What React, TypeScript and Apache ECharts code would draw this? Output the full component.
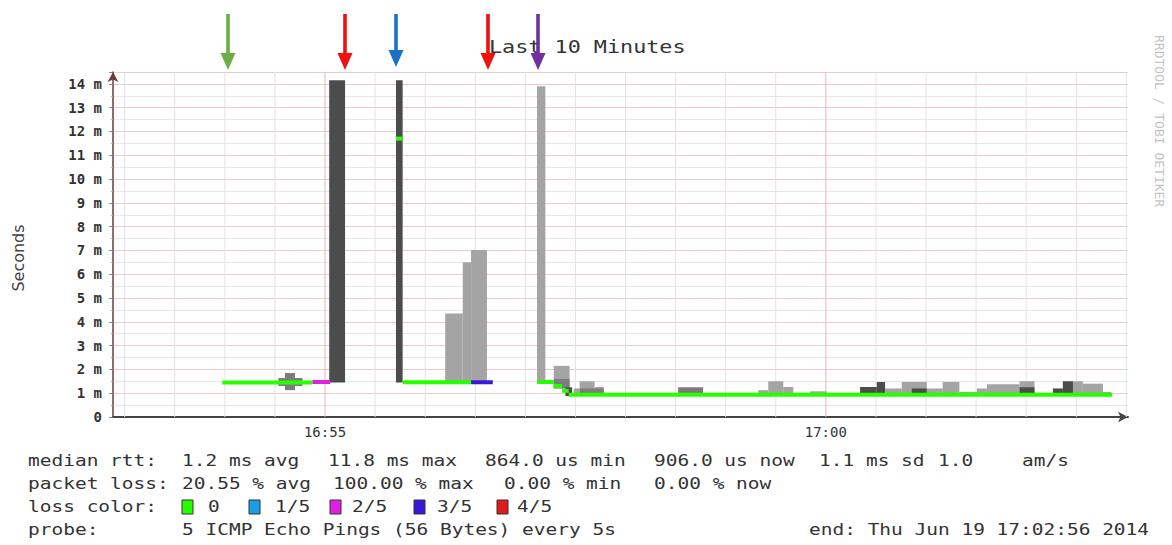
import React, { useEffect, useRef } from "react";
import * as echarts from "echarts";

// time values are seconds after 16:50:00
const xMin = 173;
const xMax = 781;
const xTickValues = [300, 600];
const xTickLabels = ["16:55", "17:00"];
const minorGridTimes = [180, 210, 240, 270, 330, 360, 390, 420, 450, 480, 510, 540, 570, 630, 660, 690, 720, 750, 780];
const majorGridTimes = [300, 600];

const yMax = 14.5;
const yTickValues = [0, 1, 2, 3, 4, 5, 6, 7, 8, 9, 10, 11, 12, 13, 14];

const shades = ["#4c4c4c", "#7c7c7c", "#a4a4a4", "#c2c2c2"];
const lossColors = ["#26ff00", "#1a9ee8", "#e020e0", "#3a18d8", "#e41a1a"];
const lossLabels = ["0", "1/5", "2/5", "3/5", "4/5"];

// smoke: [start, end, low (ms), high (ms), shade]
const smoke: [number, number, number, number, number][] = [
  [272, 286.5, 1.3, 1.64, 1],
  [276, 282, 1.13, 1.85, 1],
  [302.5, 312, 1.45, 14.15, 0],
  [342.5, 346.5, 1.45, 14.15, 0],
  [372, 382.5, 1.48, 4.35, 2],
  [382.5, 387.5, 1.48, 6.5, 2],
  [387.5, 397, 1.48, 7.02, 2],
  [427, 432, 1.45, 13.9, 2],
  [437, 446.5, 1.2, 2.15, 2],
  [437, 446.5, 1.2, 1.6, 1],
  [444, 448, 0.88, 1.25, 0],
  [449, 452.5, 0.94, 1.2, 2],
  [452.5, 461.5, 0.94, 1.5, 2],
  [461.5, 467, 0.94, 1.26, 2],
  [452.5, 467, 0.94, 1.2, 1],
  [511.5, 526.5, 0.94, 1.25, 1],
  [559.5, 565.5, 0.94, 1.13, 2],
  [565.5, 574.5, 0.94, 1.5, 2],
  [574.5, 580.5, 0.94, 1.26, 2],
  [590.5, 600.5, 0.94, 1.08, 2],
  [620.5, 630.5, 0.94, 1.26, 0],
  [630.5, 635.5, 0.94, 1.47, 0],
  [635.5, 645.5, 0.94, 1.2, 2],
  [645.5, 660.5, 0.94, 1.47, 2],
  [651.5, 660.5, 0.94, 1.2, 0],
  [660.5, 670, 0.94, 1.2, 2],
  [670, 680, 0.94, 1.47, 2],
  [680, 690.5, 0.94, 1.06, 2],
  [690.5, 696.5, 0.94, 1.2, 2],
  [696.5, 716, 0.94, 1.38, 2],
  [716, 725, 0.94, 1.5, 2],
  [716, 725, 0.94, 1.25, 0],
  [736, 742, 0.94, 1.2, 0],
  [742, 754, 0.94, 1.5, 2],
  [742, 748, 0.94, 1.5, 0],
  [754, 766, 0.94, 1.4, 2],
  [766, 771, 0.94, 1.05, 2],
];

// median rtt: [start, end, value (ms), loss index]
const median: [number, number, number, number][] = [
  [238.5, 292.5, 1.45, 0],
  [292.5, 303, 1.47, 2],
  [342.5, 346.5, 11.7, 0],
  [346.5, 387.5, 1.46, 0],
  [387.5, 400.5, 1.46, 3],
  [427, 437, 1.47, 0],
  [437, 442, 1.3, 0],
  [442, 446, 1.1, 0],
  [446, 771.5, 0.94, 0],
];

const legendRows: [string, number][][] = [
  [["median rtt:", 28], ["1.2 ms avg", 182], ["11.8 ms max", 328], ["864.0 us min", 485], ["906.0 us now", 654], ["1.1 ms sd", 819], ["1.0", 938], ["am/s", 1022]],
  [["packet loss:", 28], ["20.55 % avg", 182], ["100.00 % max", 333], ["0.00 % min", 504], ["0.00 % now", 654]],
  [["loss color:", 28]],
  [["probe:", 28], ["5 ICMP Echo Pings (56 Bytes) every 5s", 182], ["end: Thu Jun 19 17:02:56 2014", 809]],
];
const lossBoxX = [182, 249, 330, 414, 497];
const lossTextX = [208, 275, 352, 437, 517];

const arrows: [number, string][] = [
  [228, "#6aae45"],
  [345, "#f01010"],
  [396, "#1a72c8"],
  [488, "#f01010"],
  [538, "#7030a0"],
];

const MONO = "DejaVu Sans Mono";

export default function App() {
  const ref = useRef<HTMLDivElement>(null);
  useEffect(() => {
    document.body.style.margin = "0";
    const chart = echarts.init(ref.current!, null, { renderer: "svg" });

    const graphics: any[] = [];
    graphics.push({
      type: "text",
      x: 489,
      y: 47,
      scaleX: 1.21,
      z: 10,
      style: { text: "Last 10 Minutes", fontSize: 18, fontFamily: MONO, fill: "#333", verticalAlign: "middle" },
    });
    graphics.push({
      type: "text",
      x: 18,
      y: 258,
      rotation: Math.PI / 2,
      style: { text: "Seconds", fontSize: 16, fontFamily: "DejaVu Sans", fill: "#444", align: "center", verticalAlign: "middle" },
    });
    graphics.push({
      type: "text",
      x: 1159,
      y: 35,
      rotation: -Math.PI / 2,
      style: { text: "RRDTOOL / TOBI OETIKER", fontSize: 13, fontFamily: MONO, fill: "#c4c4c4", verticalAlign: "middle" },
    });
    arrows.forEach(([ax, col]) => {
      const tip = ax === 396 ? 67 : 70;
      graphics.push({
        type: "polygon",
        z: 20,
        shape: {
          points: [
            [ax - 1.8, 14], [ax + 1.8, 14], [ax + 1.8, tip - 17], [ax + 7.5, tip - 17],
            [ax, tip], [ax - 7.5, tip - 17], [ax - 1.8, tip - 17],
          ],
        },
        style: { fill: col },
      });
    });
    const rowY = [461, 484, 507, 530];
    legendRows.forEach((row, i) => {
      row.forEach(([t, x]) => {
        graphics.push({
          type: "text",
          x,
          y: rowY[i],
          scaleX: 1.3,
          style: { text: t, fontSize: 15, fontFamily: MONO, fill: "#333", verticalAlign: "middle" },
        });
      });
    });
    lossLabels.forEach((lab, i) => {
      graphics.push({
        type: "rect",
        shape: { x: lossBoxX[i], y: rowY[2] - 7, width: 11, height: 14 },
        style: { fill: lossColors[i], stroke: "#333", lineWidth: 1 },
      });
      graphics.push({
        type: "text",
        x: lossTextX[i],
        y: rowY[2],
        scaleX: 1.3,
        style: { text: lab, fontSize: 15, fontFamily: MONO, fill: "#333", verticalAlign: "middle" },
      });
    });

    const gridData = [
      ...minorGridTimes.map((t) => [t, 0]),
      ...majorGridTimes.map((t) => [t, 1]),
    ];

    chart.setOption({
      animation: false,
      backgroundColor: "#ffffff",
      grid: { left: 113, right: 44, top: 72, bottom: 128 },
      xAxis: {
        type: "value",
        min: xMin,
        max: xMax,
        axisLine: { show: true, symbol: ["none", "arrow"], symbolSize: [8, 10], lineStyle: { color: "#444", width: 2 } },
        axisTick: { show: false },
        splitLine: { show: false },
        axisLabel: {
          customValues: xTickValues,
          formatter: (v: number) => xTickLabels[xTickValues.indexOf(v)] ?? "",
          fontFamily: MONO,
          fontSize: 14,
          color: "#333",
          margin: 8,
        },
      },
      yAxis: {
        type: "value",
        min: 0,
        max: yMax,
        interval: 1,
        axisLine: { show: true, symbol: ["none", "arrow"], symbolSize: [8, 10], lineStyle: { color: "#6a3a3a", width: 1.5 } },
        axisTick: { show: true, length: 4, lineStyle: { color: "#888" } },
        minorTick: { show: true, splitNumber: 2, length: 2, lineStyle: { color: "#aaa" } },
        axisLabel: {
          customValues: yTickValues,
          formatter: (v: number) => (v === 0 ? "0" : `${v} m`),
          fontFamily: MONO,
          fontWeight: "bold",
          fontSize: 14,
          color: "#333",
          margin: 11,
        },
        splitLine: { show: true, lineStyle: { color: "#eccaca", width: 1 } },
        minorSplitLine: { show: true, lineStyle: { color: "#e6e6e6", width: 1 } },
      },
      graphic: graphics,
      series: [
        {
          type: "custom",
          name: "vgrid",
          silent: true,
          z: 1,
          data: gridData,
          renderItem: (_p: any, api: any) => {
            const t = api.value(0);
            const major = api.value(1) === 1;
            const a = api.coord([t, 0]);
            const b = api.coord([t, yMax]);
            return {
              type: "line",
              shape: { x1: a[0], y1: a[1], x2: b[0], y2: b[1] },
              style: { stroke: major ? "#eab4b4" : "#e2e2e2", lineWidth: 1 },
            };
          },
          encode: { x: 0 },
        },
        {
          type: "custom",
          name: "smoke",
          silent: true,
          z: 3,
          data: smoke,
          encode: { x: [0, 1], y: [2, 3] },
          renderItem: (_p: any, api: any) => {
            const s = api.value(0), e = api.value(1), lo = api.value(2), hi = api.value(3), sh = api.value(4);
            const p1 = api.coord([s, hi]);
            const p2 = api.coord([e, lo]);
            return {
              type: "rect",
              shape: { x: p1[0], y: p1[1], width: p2[0] - p1[0], height: p2[1] - p1[1] },
              style: { fill: shades[sh] },
            };
          },
        },
        {
          type: "custom",
          name: "median",
          silent: true,
          z: 4,
          data: median,
          encode: { x: [0, 1], y: 2 },
          renderItem: (_p: any, api: any) => {
            const s = api.value(0), e = api.value(1), v = api.value(2), l = api.value(3);
            const a = api.coord([s, v]);
            const b = api.coord([e, v]);
            return {
              type: "line",
              shape: { x1: a[0], y1: a[1], x2: b[0], y2: b[1] },
              style: { stroke: lossColors[l], lineWidth: 4 },
            };
          },
        },
      ],
    });
    return () => chart.dispose();
  }, []);
  return <div ref={ref} style={{ width: 1172, height: 545 }} />;
}
